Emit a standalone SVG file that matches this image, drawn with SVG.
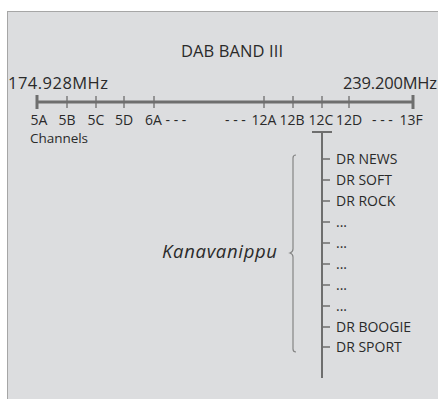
<svg xmlns="http://www.w3.org/2000/svg" width="438" height="399" viewBox="0 0 438 399">
<style>
text{font-family:"Open Sans","DejaVu Sans",sans-serif;fill:#2a2a2a}
.t{font-size:16.5px}
.f{font-size:16.5px}
.c{font-size:14px}
.l{font-size:14px}
.k{font-size:18.5px;font-style:italic}
.ax{stroke:#6e6e6e;fill:none}
</style>
<rect x="0" y="0" width="438" height="399" fill="#ffffff"/>
<rect x="7.5" y="11.5" width="460" height="420" fill="#dcdddf" stroke="#a6a6a6" stroke-width="1"/>
<g id="title"><text class="t" x="232" y="57" text-anchor="middle" textLength="102">DAB BAND III</text></g>
<g id="axis">
<text class="f" x="8" y="89" textLength="100">174.928MHz</text>
<text class="f" x="343" y="89" textLength="94">239.200MHz</text>
<line class="ax" x1="37" y1="102" x2="413" y2="102" stroke-width="3"/>
<line class="ax" x1="37" y1="95" x2="37" y2="109" stroke-width="3"/>
<line class="ax" x1="413" y1="95" x2="413" y2="109" stroke-width="3"/>
<path class="ax" stroke-width="1.3" d="M67 96V108M96 96V108M124 96V108M154 96V108M264 96V108M293 96V108M322 96V108M349 96V108"/>
</g>
<g id="channels">
<text class="c" x="39" y="125" text-anchor="middle">5A</text>
<text class="c" x="67" y="125" text-anchor="middle">5B</text>
<text class="c" x="96" y="125" text-anchor="middle">5C</text>
<text class="c" x="124" y="125" text-anchor="middle">5D</text>
<text class="c" x="145" y="125">6A - - -</text>
<text class="c" x="225" y="125">- - -</text>
<text class="c" x="264" y="125" text-anchor="middle">12A</text>
<text class="c" x="292" y="125" text-anchor="middle">12B</text>
<text class="c" x="321" y="125" text-anchor="middle">12C</text>
<text class="c" x="349" y="125" text-anchor="middle">12D</text>
<text class="c" x="372" y="125">- - -</text>
<text class="c" x="411" y="125" text-anchor="middle">13F</text>
<text x="30" y="143" style="font-size:13.5px" textLength="58">Channels</text>
</g>
<g id="connectors">
<line class="ax" x1="312" y1="132" x2="332" y2="132" stroke-width="2"/>
<line class="ax" x1="322" y1="132" x2="322" y2="378" stroke-width="2"/>
<path class="ax" stroke-width="1.3" d="M322 159H330M322 180H330M322 201H330M322 222H330M322 243H330M322 264H330M322 285H330M322 306H330M322 327H330M322 347H330"/>
<path stroke="#858585" stroke-width="1.2" fill="none" d="M296 155Q293 155 293 158V249Q293 252 290 253Q293 254 293 257V349Q293 352 296 352"/>
</g>
<g id="list">
<text class="l" x="336" y="164">DR NEWS</text>
<text class="l" x="336" y="185">DR SOFT</text>
<text class="l" x="336" y="206">DR ROCK</text>
<text class="l" x="336" y="227">...</text>
<text class="l" x="336" y="248">...</text>
<text class="l" x="336" y="269">...</text>
<text class="l" x="336" y="290">...</text>
<text class="l" x="336" y="311">...</text>
<text class="l" x="336" y="332">DR BOOGIE</text>
<text class="l" x="336" y="352">DR SPORT</text>
</g>
<g id="label"><text class="k" x="162" y="258" textLength="115">Kanavanippu</text></g>
</svg>
